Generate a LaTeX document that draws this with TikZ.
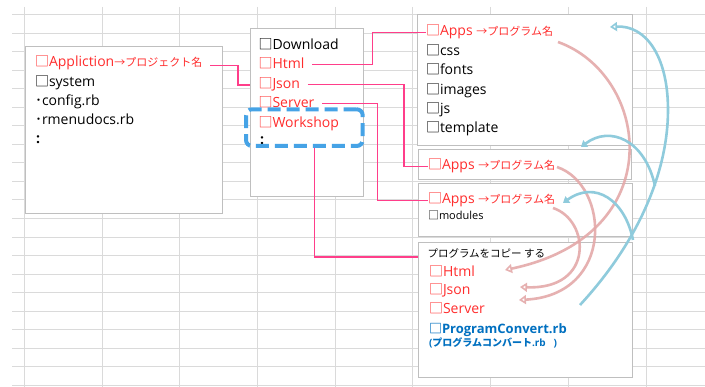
\documentclass[tikz,border=0pt]{standalone}
\usepackage{fontspec}
\setmainfont{Open Sans}
\newfontfamily\jp{Noto Sans CJK JP}
\usetikzlibrary{arrows.meta}
\definecolor{redtxt}{HTML}{FF2D2D}
\definecolor{bluetxt}{HTML}{0070C0}
\definecolor{pinkc}{HTML}{FF3E8A}
\definecolor{redarc}{HTML}{E4A9A9}
\definecolor{bluearc}{HTML}{8FCBDC}
\definecolor{wsblue}{HTML}{46A3E6}
\definecolor{gridc}{HTML}{DADADA}
\definecolor{boxc}{HTML}{BFBFBF}
\newcommand\ckb{{\jp □}}
\newcommand\jsm[1]{{\jp\fontsize{11}{13}\selectfont #1}}
\begin{document}
\begin{tikzpicture}[x=1pt,y=-1pt,
  gridline/.style={draw=gridc,line width=1pt},
  panel/.style={draw=boxc,fill=white,line width=1pt,anchor=north west,inner sep=0pt,outer sep=0pt},
  txt/.style={anchor=base west,inner sep=0pt,outer sep=0pt,font=\fontsize{14}{16}\selectfont,text height=10pt,text depth=3pt},
  rtxt/.style={txt,text=redtxt},
  smalltxt/.style={txt,font=\fontsize{11}{13}\selectfont},
  pinkline/.style={draw=pinkc,line width=1.2pt},
  wsbox/.style={draw=wsblue,line width=4pt,dash pattern=on 13pt off 6pt,rounded corners=6pt,anchor=north west,inner sep=0pt},
  redcurve/.style={draw=redarc,line width=2.6pt,opacity=0.9,-{Triangle[open,length=7pt,width=9pt,line width=1.6pt]}},
  bluecurve/.style={draw=bluearc,line width=2.6pt,-{Triangle[open,length=7pt,width=9pt,line width=1.6pt]}},
  bluecurvef/.style={draw=bluearc,line width=2.6pt,-{Triangle[length=6pt,width=8pt]}}
]
\useasboundingbox (0,0) rectangle (705,387);
% grid
\foreach \k in {0,...,20} \draw[gridline] (12,{14.5+18.55*\k}) -- (705,{14.5+18.55*\k});
\foreach \k in {0,...,8} \draw[gridline] ({24.3+77.73*\k},7) -- ({24.3+77.73*\k},387);
% panels
\node[panel,minimum width=196.3pt,minimum height=167.3pt] (b1) at (25.7,46.7) {};
\node[panel,minimum width=113pt,minimum height=167.7pt] (b2) at (250.3,29) {};
\node[panel,minimum width=215.4pt,minimum height=131pt] (b3) at (417.3,15) {};
\node[panel,minimum width=213.4pt,minimum height=30pt] (b4) at (418.3,149.3) {};
\node[panel,minimum width=214pt,minimum height=53.4pt] (b5) at (418,183.3) {};
\node[panel,minimum width=214.4pt,minimum height=135pt] (b6) at (418.3,242.7) {};
% box 1
\node[rtxt] (app) at (35,66.7) {\ckb Appliction\jsm{→プロジェクト名}};
\node[txt] (sys) at (35,86.7) {\ckb system};
\node[txt] (cfg) at (35,106) {{\jp ･}config.rb};
\node[txt] (rmd) at (35,125) {{\jp ･}rmenudocs.rb};
\node[txt] (dots1) at (36,143.5) {\textbf{:}};
% box 2
\node[txt] (dl) at (258.5,49.3) {\ckb Download};
\node[rtxt] (html2) at (258.5,68.3) {\ckb Html};
\node[rtxt] (json2) at (258.5,88.3) {\ckb Json};
\node[rtxt] (srv2) at (258.5,107.3) {\ckb Server};
\node[rtxt] (wsh) at (258.5,127.3) {\ckb Workshop};
\node[txt] (dots2) at (260,145) {\textbf{:}};
% box 3
\node[rtxt] (apps1) at (426,36) {\ckb Apps \jsm{→プログラム名}};
\node[txt] (css) at (426,55.4) {\ckb css};
\node[txt] (fonts) at (426,74.8) {\ckb fonts};
\node[txt] (images) at (426,94.2) {\ckb images};
\node[txt] (js) at (426,113.6) {\ckb js};
\node[txt] (tpl) at (426,133) {\ckb template};
% box 4, 5
\node[rtxt] (apps2) at (428,170) {\ckb Apps \jsm{→プログラム名}};
\node[rtxt] (apps3) at (428,204) {\ckb Apps \jsm{→プログラム名}};
\node[smalltxt] (mods) at (428,220) {\ckb modules};
% box 6
\node[txt] (copy) at (427.5,257.5) {\jp\fontsize{10.5}{12}\selectfont プログラムをコピー する};
\node[rtxt] (html6) at (429,276.7) {\ckb Html};
\node[rtxt] (json6) at (429,295) {\ckb Json};
\node[rtxt] (srv6) at (429,313.3) {\ckb Server};
\node[txt,text=bluetxt,font=\fontsize{13}{15}\selectfont\bfseries] (pc) at (429,333.3) {{\jp\bfseries □}ProgramConvert.rb};
\node[txt,text=bluetxt,font=\fontsize{10}{12}\selectfont\bfseries] (pcj) at (429,347) {({\jp\bfseries プログラムコンバート}.rb\ \ \ )};
% pink connectors
\coordinate (k1) at (238,85);
\coordinate (v2) at (372.7,0);
\coordinate (v3) at (404,0);
\coordinate (v4) at (377.3,0);
\coordinate (h5) at (0,257);
\draw[pinkline] ([xshift=8pt,yshift=1pt]app.base east) -| (k1) -- (k1 -| b2.west);
\draw[pinkline] ([xshift=8pt]html2.east) -| (v2 |- apps1.west) -- (apps1.west);
\draw[pinkline] ([xshift=8pt]json2.east) -| (v3 |- apps2.west) -- (apps2.west);
\draw[pinkline] ([xshift=8pt]srv2.east) -| (v4 |- apps3.west) -- (apps3.west);
% workshop dashed box
\node[wsbox,minimum width=116.7pt,minimum height=36.7pt] (ws) at (244,107.3) {};
\draw[pinkline] ([xshift=10pt]ws.south) |- (b6.west |- h5);
% red curved arrows
\coordinate (ra0) at (558,42);
\coordinate (ra1) at (505,270);
\coordinate (rb0) at (557,167);
\coordinate (rb1) at (519,300);
\coordinate (rc0) at (553,208);
\coordinate (rc1) at (520,287);
\draw[redcurve] (ra0) .. controls (650,75) and (672,235) .. (ra1);
\draw[redcurve] (rb0) .. controls (610,185) and (615,295) .. (rb1);
\draw[redcurve] (rc0) .. controls (590,220) and (595,290) .. (rc1);
% blue curved arrows
\coordinate (bd0) at (580,305);
\coordinate (bdm) at (668,110);
\coordinate (bd1) at (610,27);
\coordinate (be0) at (655,186);
\coordinate (be1) at (581,147);
\coordinate (bf0) at (633,240);
\coordinate (bf1) at (563,203);
\draw[bluecurve] (bd0) .. controls (640,240) and (668,170) .. (bdm) .. controls (668,55) and (645,25) .. (bd1);
\draw[bluecurvef] (be0) .. controls (645,140) and (610,125) .. (be1);
\draw[bluecurvef] (bf0) .. controls (625,200) and (595,180) .. (bf1);
\end{tikzpicture}
\end{document}
